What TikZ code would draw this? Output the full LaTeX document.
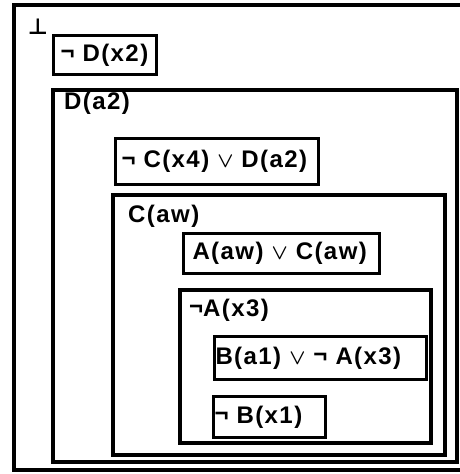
\documentclass[tikz,border=0pt]{standalone}
\usepackage{fontspec}
\usepackage{amsmath}
\newfontfamily\cf{Liberation Sans}[LetterSpace=6]
\newfontfamily\symf{DejaVu Sans}
\newcommand{\orr}{\scalebox{0.85}{$\boldsymbol{\vee}$}}
\newcommand{\nt}{\raisebox{0.1ex}{¬}}
\tikzset{
  ctx/.style={line width=3.2pt},
  clause/.style={draw, line width=3pt, anchor=north west, inner xsep=7pt, inner ysep=0pt, align=left, font=\cf\bfseries\fontsize{24}{26}\selectfont},
  lbl/.style={anchor=west, inner sep=0pt, font=\cf\bfseries\fontsize{24}{26}\selectfont}
}
\begin{document}
\begin{tikzpicture}[x=1pt, y=-1pt]
		\clip (0,0) rectangle (460,474);

		% outer box
		\draw[ctx] (14,5) rectangle (470,470);
		\node[inner sep=0pt, font=\symf\bfseries\fontsize{22}{24}\selectfont] (bot) at (38,27) {⊥};
		\node[clause, text width=89pt, minimum height=39pt] (nd) at (52,34) {\nt\ D(x2)};

		% D(a2)
		\draw[ctx] (53,90) rectangle (457,462);
		\node[lbl] (da) at (64,103) {D(a2)};
		\node[clause, text width=191pt, minimum height=46pt, inner xsep=6pt] (ncd) at (114,137) {\nt\ C(x4) \orr\ D(a2)};

		% C(aw)
		\draw[ctx] (113,195) rectangle (445,455);
		\node[lbl] (caw) at (128,216) {C(aw)};
		\node[clause, text width=178pt, minimum height=40pt, inner xsep=9pt] (ac) at (182,232) {A(aw) \orr\ C(aw)};

		% not A(x3)
		\draw[ctx] (180,290) rectangle (431,443);
		\node[lbl] (na) at (189,310) {\nt A(x3)};
		\node[clause, text width=210pt, minimum height=43pt, inner xsep=1pt] (bna) at (213,335) {B(a1) \orr\ \nt\ A(x3)};
		\node[clause, text width=110pt, minimum height=41pt, inner xsep=1pt] (nb) at (212,395) {\nt\ B(x1)};
\end{tikzpicture}
\end{document}
